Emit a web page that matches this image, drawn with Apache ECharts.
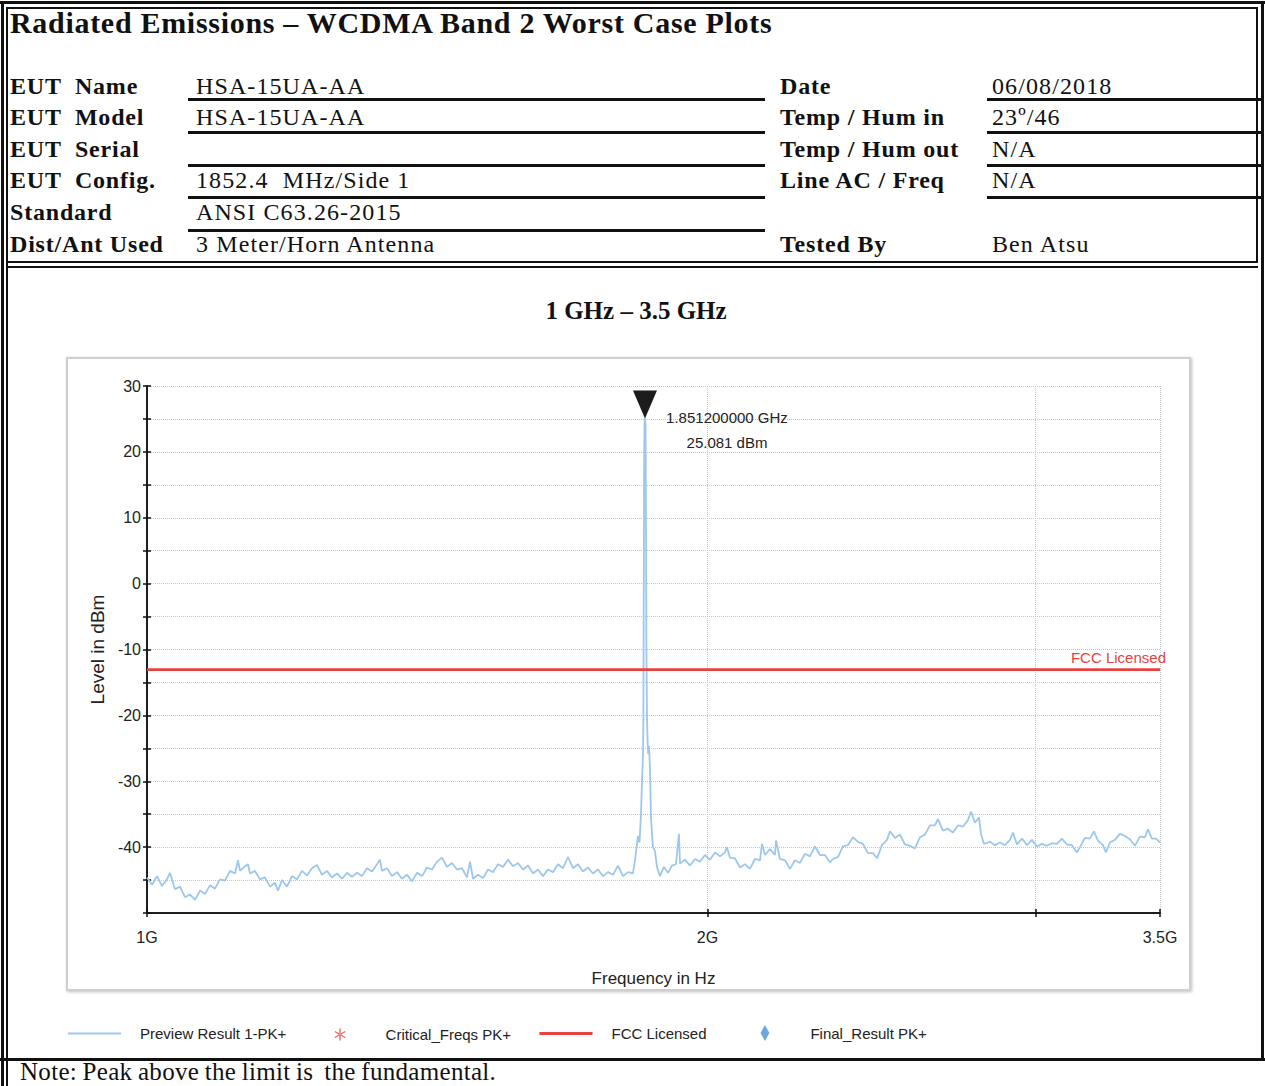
<!DOCTYPE html>
<html>
<head>
<meta charset="utf-8">
<title>Radiated Emissions – WCDMA Band 2</title>
<script src="https://cdn.jsdelivr.net/npm/echarts@6.0.0/dist/echarts.min.js"></script>
<style>
html, body { margin: 0; padding: 0; background: #fff; }
#page { position: relative; width: 1265px; height: 1086px; overflow: hidden; }
#chart { position: absolute; left: 0; top: 0; width: 1265px; height: 1086px; }
.t { position: absolute; white-space: nowrap; font-family: 'Liberation Serif', 'Times New Roman', serif; color: #111; line-height: 1; font-size: 24px; letter-spacing: 1.1px; }
.b { font-weight: bold; letter-spacing: 0.8px; }
.ln { position: absolute; background: #111; }
</style>
</head>
<body>
<div id="page">
  <div id="chart"></div>
  <div id="head"></div>
</div>
<script>
// sweep of the preview scan (MHz) and the level read at each point (dBm)
var freqMHz = [
  1000, 1006.2, 1012.4, 1018.7, 1025.0, 1028.8, 1035.2, 1041.6, 1048.1, 1054.6,
  1061.2, 1067.8, 1074.4, 1081.0, 1087.7, 1094.5, 1101.3, 1108.1, 1115.0, 1119.1,
  1121.9, 1128.8, 1133.0, 1135.8, 1142.8, 1149.9, 1157.1, 1164.3, 1171.5, 1175.8,
  1181.7, 1189.0, 1196.4, 1203.8, 1211.3, 1218.8, 1226.3, 1233.9, 1241.6, 1249.3,
  1257.0, 1264.8, 1272.7, 1280.6, 1288.5, 1296.5, 1304.5, 1312.6, 1320.8, 1329.0,
  1333.9, 1337.2, 1345.5, 1353.9, 1362.3, 1370.7, 1379.2, 1387.8, 1396.4, 1405.1,
  1413.8, 1422.6, 1431.4, 1440.3, 1449.2, 1458.2, 1467.2, 1476.3, 1485.5, 1491.0,
  1496.6, 1505.9, 1515.2, 1524.6, 1534.0, 1543.5, 1553.1, 1562.7, 1572.4, 1582.2,
  1592.0, 1601.9, 1611.8, 1621.8, 1631.9, 1642.0, 1652.2, 1662.4, 1672.7, 1683.1,
  1693.5, 1704.0, 1714.6, 1725.2, 1735.9, 1746.7, 1757.5, 1768.4, 1779.4, 1790.4,
  1801.5, 1812.7, 1823.9, 1828.5, 1833.0, 1835.3, 1838.7, 1842.1, 1844.4, 1846.7,
  1847.6, 1848.3, 1849.2, 1850.1, 1851.2, 1852.5, 1853.6, 1854.5, 1855.8, 1857.2,
  1858.6, 1860.4, 1862.7, 1865.0,
  1869.6, 1874.2, 1878.9, 1885.9, 1895.2, 1904.6, 1914.1, 1923.5, 1930.7, 1933.1,
  1945.1, 1957.2, 1969.2, 1981.5, 1993.8, 2006.1, 2018.6, 2031.1, 2043.7, 2048.8,
  2056.4, 2069.2, 2082.0, 2095.0, 2107.9, 2121.0, 2134.1, 2139.4, 2147.4, 2160.7,
  2174.1, 2176.8, 2187.6, 2201.1, 2214.8, 2228.5, 2242.3, 2256.2, 2270.2, 2284.3,
  2298.4, 2312.7, 2327.0, 2335.6, 2350.2, 2364.8, 2379.4, 2394.2, 2409.1, 2424.0,
  2439.0, 2454.1, 2466.3, 2481.6, 2497.0, 2506.3, 2521.8, 2537.5, 2553.2, 2569.0,
  2585.0, 2601.0, 2617.1, 2633.3, 2649.7, 2659.5, 2676.0, 2692.6, 2709.3, 2726.1,
  2743.0, 2760.0, 2770.3, 2784.0, 2797.8, 2804.8, 2815.2, 2836.2, 2853.8, 2871.5,
  2889.3, 2907.2, 2918.1, 2932.4, 2950.6, 2968.9, 2987.3, 3005.8, 3024.5, 3043.2,
  3062.1, 3081.1, 3100.2, 3119.4, 3138.8, 3158.2, 3170.0, 3189.6, 3209.4, 3225.3,
  3241.3, 3261.4, 3273.5, 3289.7, 3310.2, 3330.7, 3351.4, 3372.1, 3393.1, 3414.1,
  3435.3, 3448.1, 3465.2, 3482.4, 3500
];
var levelDbm = [
  -44.6, -45.7, -44.4, -45.9, -44.9, -43.9, -46.4, -46.0, -47.6, -47.2,
  -48.0, -46.6, -47.1, -45.8, -46.3, -44.9, -45.1, -43.6, -44.0, -42.0,
  -43.6, -42.9, -42.6, -44.0, -43.6, -44.9, -44.6, -46.0, -45.4, -46.6,
  -45.0, -46.0, -44.4, -44.9, -43.6, -44.3, -43.2, -42.7, -44.2, -43.6,
  -44.6, -44.0, -44.8, -43.9, -44.5, -43.9, -44.4, -43.2, -43.7, -42.6,
  -41.9, -43.6, -43.2, -44.4, -43.8, -44.8, -44.2, -45.2, -43.9, -44.4,
  -43.1, -43.4, -42.2, -41.6, -43.0, -42.4, -43.4, -43.2, -44.6, -42.2,
  -44.8, -44.2, -44.7, -43.4, -43.8, -42.6, -43.0, -41.9, -42.9, -42.4,
  -43.4, -42.8, -44.0, -43.4, -44.4, -43.4, -43.8, -42.6, -43.2, -41.5,
  -43.2, -42.6, -43.7, -43.1, -44.0, -43.4, -44.4, -43.8, -44.2, -42.8,
  -44.4, -43.8, -44.0, -42.0, -39.5, -38.3, -39.3, -35.0, -30.0, -26.0,
  -20.0, -4.0, 16.0, 24.4, 25.081, 24.2, 8.0, -10.0, -20.0, -24.0,
  -25.8, -24.6, -28.0, -35.5,
  -40.0, -40.6, -43.0, -44.4, -43.0, -43.9, -42.8, -42.6, -38.0, -42.5,
  -41.9, -42.8, -41.8, -42.2, -41.2, -41.9, -40.8, -41.4, -40.8, -40.0,
  -41.6, -41.7, -43.1, -42.6, -43.3, -41.8, -42.0, -39.5, -41.2, -40.3,
  -41.2, -39.0, -41.8, -42.0, -43.3, -42.0, -42.4, -41.0, -41.4, -39.9,
  -41.2, -41.2, -42.3, -41.8, -41.5, -39.9, -39.7, -38.5, -39.2, -39.5,
  -40.9, -40.9, -41.7, -39.7, -38.9, -37.6, -38.6, -38.1, -39.6, -39.8,
  -40.2, -38.5, -38.1, -36.7, -36.7, -35.7, -37.5, -37.2, -37.8, -36.7,
  -36.9, -35.9, -34.6, -36.3, -35.5, -38.0, -39.5, -39.2, -39.7, -39.3,
  -39.7, -38.9, -37.8, -39.6, -38.7, -39.7, -38.9, -39.9, -39.5, -39.8,
  -39.4, -39.5, -38.7, -39.6, -39.7, -40.8, -40.0, -38.6, -38.7, -37.6,
  -39.0, -39.7, -40.8, -39.3, -38.9, -38.0, -38.3, -38.8, -39.8, -38.4,
  -38.5, -37.3, -38.7, -38.7, -39.3
];
var limitDbm = -13;
var peakFreqMHz = 1851.2;
var peakLevelDbm = 25.081;
var xTickGHz = [1, 2, 3, 3.5];
var xLabelGHz = [1, 2, 3.5];
var xLabelText = ['1G', '2G', '3.5G'];

// header table of the report
var headLeft = [
  ['EUT  Name', 'HSA-15UA-AA'],
  ['EUT  Model', 'HSA-15UA-AA'],
  ['EUT  Serial', ''],
  ['EUT  Config.', '1852.4  MHz/Side 1'],
  ['Standard', 'ANSI C63.26-2015'],
  ['Dist/Ant Used', '3 Meter/Horn Antenna']
];
var headRight = [
  ['Date', '06/08/2018'],
  ['Temp / Hum in', '23º/46'],
  ['Temp / Hum out', 'N/A'],
  ['Line AC / Freq', 'N/A'],
  ['', ''],
  ['Tested By', 'Ben Atsu']
];
var rowBase = [94, 125, 157, 188, 220, 252];

function buildHead() {
  var h = document.getElementById('head');
  var html = '';
  function txt(s, x, base, cls, extra) {
    if (!s) return;
    html += '<div class="t ' + (cls || '') + '" style="left:' + x + 'px;top:' + (base - 20) + 'px;' + (extra || '') + '">' + s.replace(/  /g, ' &nbsp;') + '</div>';
  }
  function ln(x, y, w, hh) {
    html += '<div class="ln" style="left:' + x + 'px;top:' + y + 'px;width:' + w + 'px;height:' + hh + 'px"></div>';
  }
  txt('Radiated Emissions – WCDMA Band 2 Worst Case Plots', 10, 33, 'b', 'font-size:30px;letter-spacing:0.7px;top:8px;');
  headLeft.forEach(function (r, i) {
    txt(r[0], 10, rowBase[i], 'b');
    txt(r[1], 196, rowBase[i], '');
  });
  headRight.forEach(function (r, i) {
    txt(r[0], 780, rowBase[i], 'b');
    txt(r[1], 992, rowBase[i], '');
  });
  [98, 131, 164, 196, 229].forEach(function (y) { ln(188, y, 577, 3); });
  [98, 131, 164, 196].forEach(function (y) { ln(987, y, 276, 3); });
  // frame
  ln(0, 1, 1265, 3);
  ln(6, 7, 1252, 1.5);
  ln(1, 1, 3, 1085);
  ln(6, 7, 1.5, 1079);
  ln(1261, 1, 3, 1058);
  ln(1256, 7, 1.5, 256);
  ln(6, 261, 1252, 2);
  ln(6, 266, 1252, 2);
  ln(0, 1058, 1265, 3);
  html += '<div class="t" style="left:20px;top:1061px;font-size:25px;line-height:22px;letter-spacing:0.3px;word-spacing:-1px">Note: Peak above the limit is &nbsp;the fundamental.</div>';
  h.innerHTML = html;
}
buildHead();

var SANS = "'Liberation Sans', Arial, sans-serif";
var ASTERISK = 'path://M4.3,0L5.7,0L5.7,12L4.3,12Z M-0.55,3.61L0.15,2.39L10.55,8.39L9.85,9.61Z M-0.55,8.39L0.15,9.61L10.55,3.61L9.85,2.39Z';
var DIAMOND = 'path://M5,0L10,9L5,18L0,9Z';
var TRIANGLE = 'path://M0,0L24,0L12,28Z';

function lg(f) { return Math.log10(f); }
var xMax = lg(3.5);
var trace = freqMHz.map(function (f, i) { return [lg(f / 1000), levelDbm[i]]; });

var myChart = echarts.init(document.getElementById('chart'), null, { renderer: 'svg' });

// legend boxes: line icons span the 53px box, point icons sit at their centre
var legendItems = [
  { name: 'Preview Result 1-PK+', left: 67, h: 14 },
  { name: 'Critical_Freqs PK+', left: 334.5, h: 12 },
  { name: 'FCC Licensed', left: 538, h: 14, lw: 3 },
  { name: 'Final_Result PK+', left: 760.5, h: 16 }
];

option = {
  animation: false,
  title: {
    text: '1 GHz – 3.5 GHz',
    left: 636, top: 298, textAlign: 'center', padding: 0,
    textStyle: { fontFamily: "'Liberation Serif', serif", fontWeight: 'bold', fontSize: 25, color: '#111' }
  },
  graphic: [{
    type: 'rect', z: -10, silent: true,
    shape: { x: 67, y: 358, width: 1123, height: 632 },
    style: { fill: '#fff', stroke: '#cfcfcf', lineWidth: 2, shadowBlur: 3, shadowOffsetX: 1, shadowOffsetY: 1, shadowColor: 'rgba(0,0,0,0.25)' }
  }],
  legend: legendItems.map(function (it) {
    var l = {
      data: [it.name], left: it.left, top: 1033 - it.h / 2, padding: 0,
      itemWidth: 53, itemHeight: it.h, selectedMode: false,
      textStyle: { fontFamily: SANS, fontSize: 15, color: '#222', padding: [0, 0, 0, 14] }
    };
    if (it.lw) l.lineStyle = { width: it.lw };
    return l;
  }),
  grid: { left: 147, right: 105, top: 386, bottom: 173 },
  xAxis: [{
    type: 'value', min: 0, max: xMax,
    axisLine: { onZero: false, lineStyle: { color: '#111', width: 1.5 } },
    axisTick: { customValues: xTickGHz.map(lg), length: 4, lineStyle: { color: '#111', width: 1.5 } },
    axisLabel: {
      customValues: xLabelGHz.map(lg), margin: 16,
      fontFamily: SANS, fontSize: 16, color: '#222',
      formatter: function (v) {
        for (var i = 0; i < xLabelGHz.length; i++) {
          if (Math.abs(lg(xLabelGHz[i]) - v) < 1e-6) return xLabelText[i];
        }
        return '';
      }
    },
    splitLine: { show: true, lineStyle: { color: '#c4c4c4', type: 'dotted' } },
    name: 'Frequency in Hz', nameLocation: 'middle', nameGap: 57,
    nameTextStyle: { fontFamily: SANS, fontSize: 17, color: '#222' }
  }, {
    type: 'value', min: 0, max: xMax, position: 'bottom',
    axisLine: { onZero: false, lineStyle: { color: '#111', width: 1.5 } },
    axisTick: { customValues: xTickGHz.map(lg), inside: true, length: 4, lineStyle: { color: '#111', width: 1.5 } },
    axisLabel: { show: false }, splitLine: { show: false }
  }],
  yAxis: [{
    type: 'value', min: -50, max: 30, interval: 5,
    axisLine: { show: true, onZero: false, lineStyle: { color: '#111', width: 1.5 } },
    axisTick: { show: true, length: 4, lineStyle: { color: '#111', width: 1.5 } },
    axisLabel: {
      margin: 6, fontFamily: SANS, fontSize: 16, color: '#222',
      formatter: function (v) { return (v % 10 === 0 && v > -50) ? String(v) : ''; }
    },
    splitLine: { show: true, lineStyle: { color: '#c4c4c4', type: 'dotted' } },
    name: 'Level in dBm', nameLocation: 'middle', nameGap: 40, nameRotate: 90,
    nameTextStyle: { fontFamily: SANS, fontSize: 19, color: '#222' }
  }, {
    type: 'value', min: -50, max: 30, interval: 5, position: 'left',
    axisLine: { show: true, onZero: false, lineStyle: { color: '#111', width: 1.5 } },
    axisTick: { show: true, inside: true, length: 4, lineStyle: { color: '#111', width: 1.5 } },
    axisLabel: { show: false }, splitLine: { show: false }
  }],
  series: [{
    name: 'Preview Result 1-PK+', type: 'line', data: trace,
    symbol: 'line', showSymbol: false, z: 3,
    lineStyle: { color: '#9dc7ec', width: 1.8 },
    itemStyle: { color: '#9dc7ec' },
    markPoint: {
      silent: true,
      symbol: TRIANGLE, symbolSize: [24, 28], symbolOffset: [0, '-50%'],
      itemStyle: { color: '#1c1c1c' },
      label: {
        show: true, position: [94, 40], align: 'center', verticalAlign: 'middle',
        lineHeight: 25, fontFamily: SANS, fontSize: 15, color: '#222',
        formatter: (peakFreqMHz / 1000).toFixed(9) + ' GHz\n' + peakLevelDbm.toFixed(3) + ' dBm'
      },
      data: [{ coord: [lg(peakFreqMHz / 1000), peakLevelDbm] }]
    }
  }, {
    name: 'Critical_Freqs PK+', type: 'scatter', data: [],
    symbol: ASTERISK, itemStyle: { color: '#e8413f' }
  }, {
    name: 'FCC Licensed', type: 'line', z: 4,
    data: [[0, limitDbm], [xMax, limitDbm]],
    symbol: 'line', showSymbol: false,
    lineStyle: { color: '#e8413f', width: 2 },
    itemStyle: { color: '#e8413f' },
    markLine: {
      silent: true, symbol: 'none',
      lineStyle: { color: '#e8413f', width: 2, type: 'solid' },
      label: {
        show: true, position: 'insideEndTop', distance: [-6, 4],
        formatter: 'FCC Licensed', fontFamily: SANS, fontSize: 15, color: '#e8413f'
      },
      data: [{ yAxis: limitDbm }]
    }
  }, {
    name: 'Final_Result PK+', type: 'scatter', data: [],
    symbol: DIAMOND, itemStyle: { color: '#4592d8' }
  }]
};

myChart.setOption(option, true);
</script>
</body>
</html>
